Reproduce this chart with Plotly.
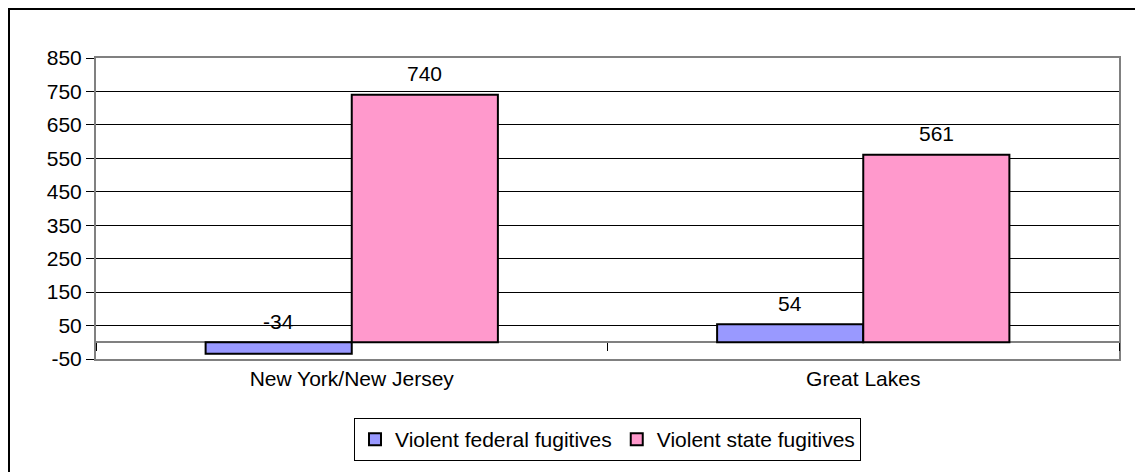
import plotly.graph_objects as go

categories = ["New York/New Jersey", "Great Lakes"]
series_names = ["Violent federal fugitives", "Violent state fugitives"]
federal = [-34, 54]
state = [740, 561]
y_ticks = [-50, 50, 150, 250, 350, 450, 550, 650, 750, 850]

colors = ["#9999FF", "#FF99CC"]
FONT = "Liberation Sans, Arial, sans-serif"
FS = 21

x_pos = list(range(len(categories)))
bargap = 1.5 / 3.5
bar_w = (1 - bargap) / 2

W, H = 1143, 472
ML, MR, MT, MB = 88, 32, 50, 121

fig = go.Figure()
all_series = [federal, state]
for k, (name, vals) in enumerate(zip(series_names, all_series)):
    off = (k - 0.5) * bar_w
    fig.add_trace(go.Bar(
        x=x_pos, y=vals, name=name, width=bar_w, offset=off - bar_w / 2,
        marker=dict(color=colors[k], line=dict(color="black", width=2)),
        hoverinfo="y",
    ))
    for i, v in enumerate(vals):
        fig.add_annotation(
            x=i + off, y=max(v, 0), text=str(v), showarrow=False,
            yanchor="middle", yshift=21, font=dict(size=FS, color="black", family=FONT),
        )

fig.add_trace(go.Scatter(x=[-0.5, 1.5], y=[0, 0], xaxis="x2", mode="lines",
                         line=dict(width=0), showlegend=False, hoverinfo="skip"))

ymin, ymax = y_ticks[0], y_ticks[-1]
zero_pos = (0 - ymin) / (ymax - ymin)
pw, ph = W - ML - MR, H - MT - MB

fig.update_layout(
    width=W, height=H,
    margin=dict(l=ML, r=MR, t=MT, b=MB, autoexpand=False),
    paper_bgcolor="white", plot_bgcolor="white",
    font=dict(family=FONT, size=FS, color="black"),
    barmode="overlay",
    showlegend=True,
    legend=dict(orientation="h", x=0.5, xanchor="center", xref="paper",
                y=(H - 410) / H, yanchor="top", yref="container",
                bordercolor="black", borderwidth=1, font=dict(size=FS),
                itemwidth=30, tracegroupgap=0, traceorder="normal"),
    xaxis=dict(range=[-0.5, 1.5], tickvals=x_pos, ticktext=categories, ticks="",
               showgrid=False, zeroline=False, showline=True, mirror=True,
               linecolor="#808080", linewidth=2, tickfont=dict(size=FS),
               automargin=False),
    xaxis2=dict(range=[-0.5, 1.5], overlaying="x", anchor="free", position=zero_pos,
                side="bottom", tickvals=[-0.5, 0.5, 1.5], ticks="outside", ticklen=8,
                tickcolor="black", tickwidth=1, showticklabels=False, showgrid=False,
                zeroline=False, showline=False, automargin=False),
    yaxis=dict(range=[ymin, ymax], tickvals=y_ticks, ticktext=[str(t) for t in y_ticks],
               ticks="outside", ticklen=8,
               tickcolor="black", showgrid=True, gridcolor="black", gridwidth=1,
               zeroline=True, zerolinecolor="#808080", zerolinewidth=2,
               showline=True, mirror=True, linecolor="#808080", linewidth=2,
               tickfont=dict(size=FS), automargin=False),
    shapes=[dict(type="rect", xref="paper", yref="paper",
                 x0=(1 - ML) / pw, x1=1.2, y0=-0.6, y1=1 + (MT - 1) / ph,
                 line=dict(color="black", width=2), fillcolor="rgba(0,0,0,0)",
                 layer="below")],
)

fig.write_html("out.html")
